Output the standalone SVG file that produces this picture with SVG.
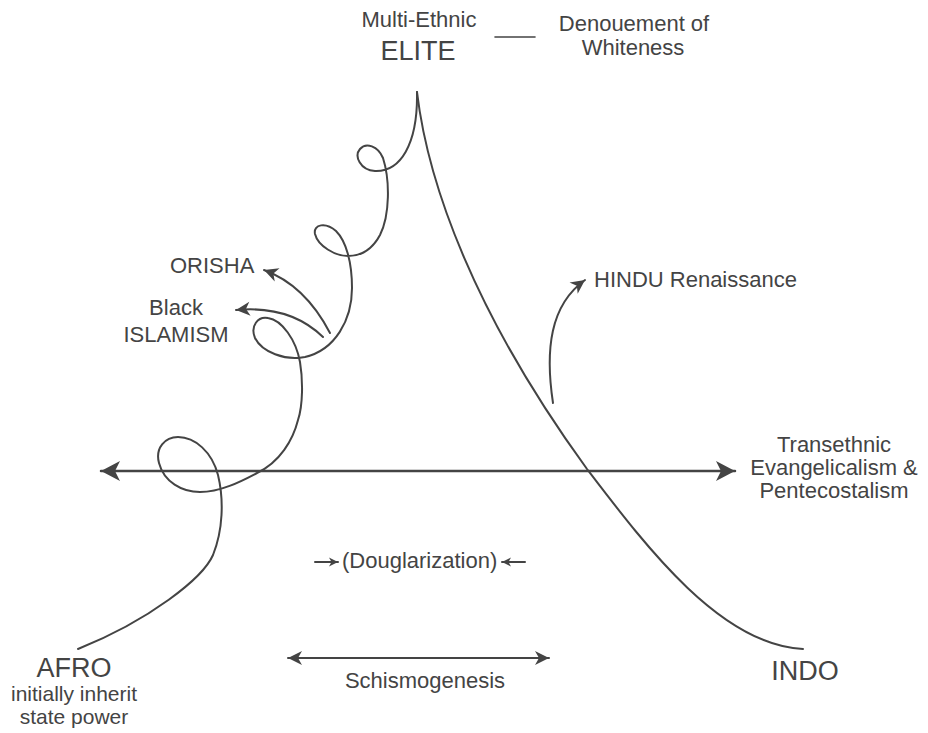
<svg xmlns="http://www.w3.org/2000/svg" width="928" height="733" viewBox="0 0 928 733">
<style>
  .t { font-family: "Liberation Sans", Arial, Helvetica, sans-serif; fill: #444; font-size: 22px; }
  .big { font-size: 27px; }
  .m { text-anchor: middle; }
  .ln { fill: none; stroke: #444; stroke-width: 2; stroke-linecap: round; }
  .thick { stroke-width: 2.5; }
</style>
<defs>
  <marker id="ahBig" markerUnits="userSpaceOnUse" viewBox="-20 -11 22 22" refX="0" refY="0" markerWidth="22" markerHeight="22" orient="auto-start-reverse">
    <path d="M0,0 L-19,-10 L-14,0 L-19,10 Z" fill="#444"/>
  </marker>
  <marker id="ahMed" markerUnits="userSpaceOnUse" viewBox="-15 -8 16 16" refX="0" refY="0" markerWidth="16" markerHeight="16" orient="auto-start-reverse">
    <path d="M0,0 L-14,-7 L-10,0 L-14,7 Z" fill="#444"/>
  </marker>
  <marker id="ahSm" markerUnits="userSpaceOnUse" viewBox="-10 -6 11 12" refX="0" refY="0" markerWidth="11" markerHeight="12" orient="auto">
    <path d="M0,0 L-9,-4.5 L-6.5,0 L-9,4.5 Z" fill="#444"/>
  </marker>
</defs>

<g id="connectors">
  <!-- spiral AFRO to ELITE -->
  <path class="ln" d="M417,92 C418,145 400,172 375,171 C360,170 354,156 360,149 C366,142 378,146 383,158 C390,180 390,215 380,235 C372,250 360,256 348,256 C335,256 318,246 315,234 C313,224 326,222 336,231 C346,241 352,262 352,288 C352,320 335,350 305,357 C285,361 262,352 255,338 C250,326 258,316 268,318 C282,320 296,340 300,362 C303,380 303,405 298,420 C293,440 280,462 257,473 C240,482 220,492 200,492 C182,492 164,482 159,463 C155,448 165,437 178,437 C195,437 212,452 218,475 C224,500 223,530 213,555 C203,578 150,620 78,649"/>
  <!-- ELITE to INDO -->
  <path class="ln" d="M417,92 C428,185 475,315 587,469 C645,545 720,645 803,649"/>
  <!-- horizontal double arrow -->
  <path class="ln thick" d="M101,471 L735,471" marker-start="url(#ahBig)" marker-end="url(#ahBig)"/>
  <!-- ORISHA arrow -->
  <path class="ln" d="M330,333 Q305,285 264,270" marker-end="url(#ahMed)"/>
  <!-- Black ISLAMISM arrow -->
  <path class="ln" d="M323,337 Q290,305 236,310" marker-end="url(#ahMed)"/>
  <!-- HINDU arrow -->
  <path class="ln" d="M553,403 C545,350 550,305 585,280" marker-end="url(#ahMed)"/>
  <!-- Douglarization arrows -->
  <path class="ln" d="M315,562 L338,562" marker-end="url(#ahSm)"/>
  <path class="ln" d="M525,562 L502,562" marker-end="url(#ahSm)"/>
  <!-- Schismogenesis -->
  <path class="ln" d="M288,658 L549,658" marker-start="url(#ahMed)" marker-end="url(#ahMed)"/>
  <!-- dash between ELITE and Denouement -->
  <path class="ln" style="stroke-width:1.6" d="M495,37 L535,37"/>
</g>

<g id="elite">
  <text class="t m" x="419" y="27">Multi-Ethnic</text>
  <text class="t big m" x="418" y="60">ELITE</text>
</g>
<g id="denouement">
  <text class="t m" x="634" y="31">Denouement of</text>
  <text class="t m" x="633" y="55">Whiteness</text>
</g>
<g id="orisha">
  <text class="t" x="170" y="273">ORISHA</text>
</g>
<g id="black-islamism">
  <text class="t m" x="176" y="315">Black</text>
  <text class="t m" x="176" y="342">ISLAMISM</text>
</g>
<g id="hindu">
  <text class="t" x="594" y="287">HINDU Renaissance</text>
</g>
<g id="transethnic">
  <text class="t m" x="834" y="452">Transethnic</text>
  <text class="t m" x="834" y="475">Evangelicalism &amp;</text>
  <text class="t m" x="834" y="498">Pentecostalism</text>
</g>
<g id="douglarization">
  <text class="t" x="342" y="568">(Douglarization)</text>
</g>
<g id="schismogenesis">
  <text class="t m" x="425" y="688">Schismogenesis</text>
</g>
<g id="afro">
  <text class="t big m" x="74" y="677">AFRO</text>
  <text class="t m" style="font-size:21px" x="74" y="701">initially inherit</text>
  <text class="t m" style="font-size:21px" x="74" y="724">state power</text>
</g>
<g id="indo">
  <text class="t big m" x="805" y="680">INDO</text>
</g>
</svg>
